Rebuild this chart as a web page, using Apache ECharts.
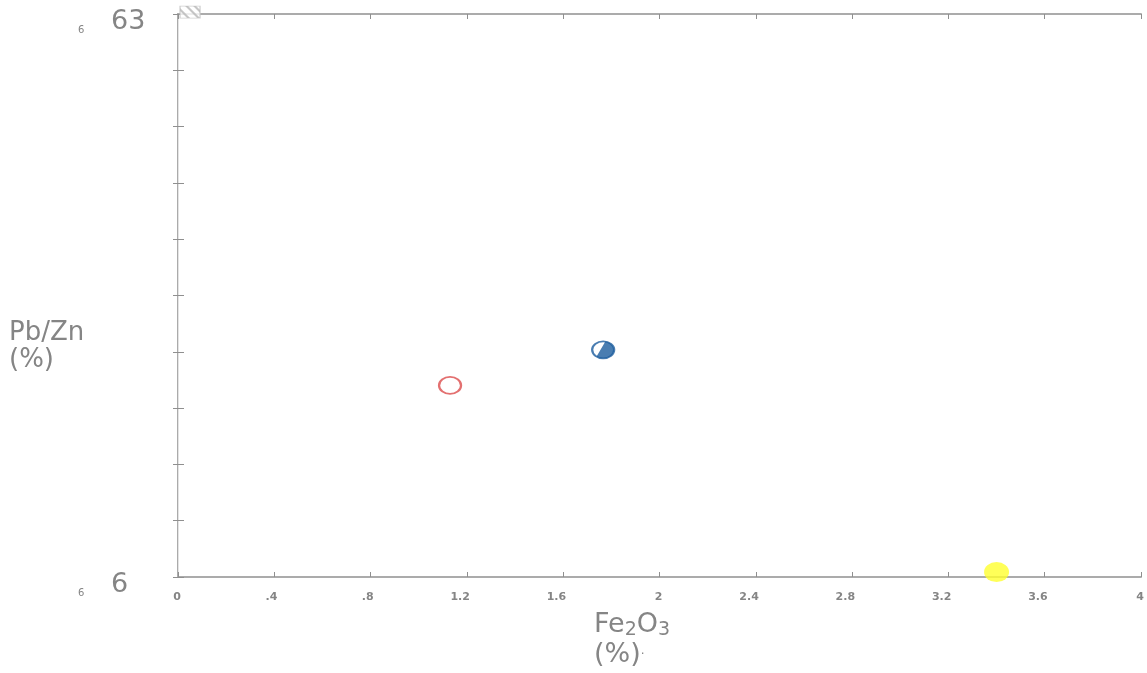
<!DOCTYPE html>
<html>
<head>
<meta charset="utf-8">
<script src="https://cdn.jsdelivr.net/npm/echarts@6/dist/echarts.min.js"></script>
<style>
html, body { margin: 0; padding: 0; background: #fff; }
#main { width: 1147px; height: 673px; }
</style>
</head>
<body>
<div id="main"></div>
<script>
// sample points (Fe2O3 %, Pb/Zn %)
var redPts = [[1.13, 25.4]];
var bluePts = [[1.766, 29.0]];
var yellowPts = [[3.4, 6.5]];
var hatchPts = [[0.05, 63.2]];

// axis ticks / labels
var xMin = 0, xMax = 4, xStep = 0.4;
var yTicks = [6, 11.7, 17.4, 23.1, 28.8, 34.5, 40.2, 45.9, 51.6, 57.3, 63];
var yLabels = [6, 63];

var chart = echarts.init(document.getElementById('main'));

var gray = '#858585';
var axisGray = '#ababab';
var nameFont = 'DejaVu Sans';

// blue wedge: circle with a white slice on the upper left
var wedge = 'path://M0 10 L0 10 M20 10 L20 10 M10 0 L10 0 M10 20 L10 20 M12 0.2 A10 10 0 1 1 4 18 Z';
// diagonal stripes for the small hatched square
var stripes = 'path://M0 0 L0 0 M20 12 L20 12 M0 2 L0 5 L7 12 L10 12 Z M5 0 L8 0 L20 12 L17 12 Z M13 0 L16 0 L20 4 L20 7 Z';

var option = {
  backgroundColor: '#fff',
  animation: false,
  grid: { left: 178, right: 3, top: 14, bottom: 96 },
  xAxis: [{
    type: 'value',
    min: xMin, max: xMax, interval: xStep,
    axisLine: { lineStyle: { color: axisGray, width: 2 } },
    axisTick: { inside: true, length: 5, lineStyle: { color: '#8f8f8f' } },
    splitLine: { show: false },
    axisLabel: {
      margin: 15, align: 'right',
      color: gray, fontSize: 11, fontWeight: 'bold', fontFamily: 'DejaVu Sans',
      padding: [0, -3, 0, 0],
      formatter: function (v) { return String(+v.toFixed(1)).replace(/^0\./, '.'); }
    }
  }, {
    type: 'value', position: 'top',
    min: xMin, max: xMax, interval: xStep,
    axisLine: { lineStyle: { color: axisGray, width: 2 } },
    axisTick: { inside: true, length: 5, lineStyle: { color: '#8f8f8f' } },
    splitLine: { show: false },
    axisLabel: { show: false }
  }],
  yAxis: [{
    type: 'value',
    min: 6, max: 63,
    axisLine: { lineStyle: { color: axisGray, width: 2 } },
    axisTick: { inside: true, length: 6, customValues: yTicks, lineStyle: { color: '#8f8f8f' } },
    splitLine: { show: false },
    axisLabel: {
      customValues: yLabels,
      margin: 100, align: 'left',
      formatter: function (v) { return '{s|6}{b|' + v + '}'; },
      rich: {
        s: { fontSize: 10, color: gray, width: 33, verticalAlign: 'bottom', fontFamily: 'DejaVu Sans' },
        b: { fontSize: 27, color: gray, padding: [16, 0, 0, 0], fontFamily: 'DejaVu Sans' }
      }
    }
  }, {
    type: 'value', position: 'right',
    min: 6, max: 63,
    axisLine: { show: true, lineStyle: { color: '#e4e4e4', width: 1 } },
    axisTick: { inside: true, length: 5, customValues: yTicks, lineStyle: { color: '#8f8f8f' } },
    splitLine: { show: false },
    axisLabel: { show: false }
  }],
  graphic: [{
    // y axis name
    type: 'text',
    left: 9, top: 320,
    style: {
      text: 'Pb/Zn\n(%)',
      fill: gray,
      font: '26px "' + nameFont + '"',
      lineHeight: 27
    }
  }, {
    // x axis name
    type: 'text',
    left: 594, top: 610,
    style: {
      text: 'Fe{sub|2}O{sub|3}\n(%){dot|·}',
      fill: gray,
      font: '27px "' + nameFont + '"',
      lineHeight: 30,
      rich: {
        sub: { fontSize: 19, fill: gray, verticalAlign: 'bottom', fontFamily: nameFont },
        dot: { fontSize: 12, fill: gray, fontFamily: nameFont }
      }
    }
  }],
  series: [{
    type: 'scatter', clip: false,
    data: hatchPts,
    symbol: 'rect', symbolSize: [20, 12],
    itemStyle: { color: '#fff', borderColor: '#c4c4c4', borderWidth: 1 }
  }, {
    type: 'scatter', clip: false,
    data: hatchPts,
    symbol: stripes, symbolSize: [20, 12],
    itemStyle: { color: '#b8b8b8' }
  }, {
    type: 'scatter', clip: false,
    data: redPts,
    symbol: 'circle', symbolSize: [22, 17],
    itemStyle: { color: '#fff', borderColor: '#dc4c4c', borderWidth: 2 }
  }, {
    type: 'scatter', clip: false,
    data: bluePts,
    symbol: 'circle', symbolSize: [22, 17],
    itemStyle: { color: '#fff', borderColor: '#1b5d9e', borderWidth: 2 }
  }, {
    type: 'scatter', clip: false,
    data: bluePts,
    symbol: wedge, symbolSize: [22, 17],
    itemStyle: { color: '#1b5d9e' }
  }, {
    type: 'scatter', clip: false,
    data: yellowPts,
    symbol: 'circle', symbolSize: [25, 20],
    itemStyle: { color: '#ffff2e' }
  }]
};

chart.setOption(option);
</script>
</body>
</html>
